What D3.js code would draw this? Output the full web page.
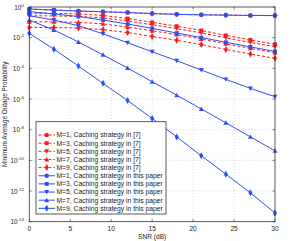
<!DOCTYPE html>
<html>
<head>
<meta charset="utf-8">
<script src="https://cdn.jsdelivr.net/npm/d3@7"></script>
<style>
  body { margin: 0; background: #fff; }
  text { font-family: "Liberation Sans", Arial, sans-serif; fill: #222; }
</style>
</head>
<body>
<div id="chart"></div>
<script>
// SNR points (dB)
const snr = [0, 3, 6, 9, 12, 15, 18, 21, 24, 27, 30];

// Caching strategy in [7] (red, dashed)
const ref7_M1 = [0.741, 0.631, 0.550, 0.490, 0.437, 0.372, 0.331, 0.309, 0.295, 0.282, 0.275];
const ref7_M3 = [0.389, 0.380, 0.355, 0.282, 0.178, 0.100, 0.0562, 0.0295, 0.0141, 7.08e-3, 3.72e-3];
const ref7_M5 = [0.269, 0.263, 0.245, 0.195, 0.123, 0.0692, 0.0389, 0.0204, 9.77e-3, 4.90e-3, 2.57e-3];
const ref7_M7 = [0.110, 0.107, 0.100, 0.0794, 0.0501, 0.0282, 0.0158, 8.32e-3, 3.98e-3, 2.0e-3, 1.05e-3];
const ref7_M9 = [0.0468, 0.0457, 0.0427, 0.0339, 0.0214, 0.0120, 6.76e-3, 3.55e-3, 1.70e-3, 8.51e-4, 4.47e-4];

// Caching strategy in this paper (blue, solid)
const own_M1 = [0.741, 0.631, 0.550, 0.490, 0.437, 0.372, 0.331, 0.309, 0.295, 0.282, 0.275];
const own_M3 = [0.501, 0.355, 0.240, 0.141, 0.0776, 0.0407, 0.0200, 0.0102, 5.01e-3, 2.51e-3, 1.26e-3];
const own_M5 = [0.269, 0.141, 0.0603, 0.0178, 4.68e-3, 1.20e-3, 3.16e-4, 7.76e-5, 1.91e-5, 4.90e-6, 1.41e-6];
const own_M7 = [0.141, 0.0316, 5.25e-3, 7.59e-4, 1.05e-4, 1.35e-5, 1.78e-6, 2.24e-7, 2.82e-8, 3.39e-9, 4.17e-10];
const own_M9 = [0.0191, 1.78e-3, 1.41e-4, 1.05e-5, 7.94e-7, 5.37e-8, 3.39e-9, 2.0e-10, 1.26e-11, 7.59e-13, 3.72e-14];

const xTicks = [0, 5, 10, 15, 20, 25, 30];
const yExps = [0, -2, -4, -6, -8, -10, -12, -14];

const legendLabels = [
  "M=1, Caching strategy in [7]",
  "M=3, Caching strategy in [7]",
  "M=5, Caching strategy in [7]",
  "M=7, Caching strategy in [7]",
  "M=9, Caching strategy in [7]",
  "M=1, Caching strategy in this paper",
  "M=3, Caching strategy in this paper",
  "M=5, Caching strategy in this paper",
  "M=7, Caching strategy in this paper",
  "M=9, Caching strategy in this paper"
];

const RED = "#ff1a1a", BLUE = "#2e4ff5";
const shapes = ["circle", "square", "down", "up", "diamond"];

const series = [
  { vals: ref7_M1, color: RED, dash: "3,2", shape: shapes[0] },
  { vals: ref7_M3, color: RED, dash: "3,2", shape: shapes[1] },
  { vals: ref7_M5, color: RED, dash: "3,2", shape: shapes[2] },
  { vals: ref7_M7, color: RED, dash: "3,2", shape: shapes[3] },
  { vals: ref7_M9, color: RED, dash: "3,2", shape: shapes[4] },
  { vals: own_M1, color: BLUE, dash: null, shape: shapes[0] },
  { vals: own_M3, color: BLUE, dash: null, shape: shapes[1] },
  { vals: own_M5, color: BLUE, dash: null, shape: shapes[2] },
  { vals: own_M7, color: BLUE, dash: null, shape: shapes[3] },
  { vals: own_M9, color: BLUE, dash: null, shape: shapes[4] }
];

var W = 292, H = 241;
var margin = { top: 7, left: 29.3, right: 17, bottom: 19.3 };
var width = W - margin.left - margin.right,
    height = H - margin.top - margin.bottom;

var root = d3.select("#chart").append("svg")
    .attr("width", W)
    .attr("height", H);

var svg = root.append("g")
    .attr("transform", "translate(" + margin.left + "," + margin.top + ")");

var x = d3.scaleLinear().domain([0, 30]).range([0, width]);
var y = d3.scaleLog().domain([1e-14, 1]).range([height, 0]);

// grid
svg.append("g").selectAll("line")
    .data(xTicks.slice(1, -1))
    .enter().append("line")
    .attr("x1", d => x(d)).attr("x2", d => x(d))
    .attr("y1", 0).attr("y2", height)
    .attr("stroke", "#c8c8c8").attr("stroke-width", 0.7)
    .attr("stroke-dasharray", "1,2");

svg.append("g").selectAll("line")
    .data(yExps.slice(1, -1))
    .enter().append("line")
    .attr("x1", 0).attr("x2", width)
    .attr("y1", d => y(Math.pow(10, d))).attr("y2", d => y(Math.pow(10, d)))
    .attr("stroke", "#c8c8c8").attr("stroke-width", 0.7)
    .attr("stroke-dasharray", "1,2");

function symbolPath(shape, s) {
    if (shape == "circle") return d3.symbol(d3.symbolCircle, s * s * 0.8)();
    if (shape == "square") return d3.symbol(d3.symbolSquare, s * s * 0.75)();
    if (shape == "diamond") return d3.symbol(d3.symbolDiamond, s * s * 0.7)();
    var h = s * 0.55;
    if (shape == "up") return "M0," + (-h) + "L" + h + "," + (h * 0.8) + "L" + (-h) + "," + (h * 0.8) + "Z";
    return "M0," + h + "L" + h + "," + (-h * 0.8) + "L" + (-h) + "," + (-h * 0.8) + "Z";
}

var line = d3.line()
    .x((d, i) => x(snr[i]))
    .y(d => y(d));

series.forEach(function (s) {
    var g = svg.append("g");
    g.append("path")
        .attr("d", line(s.vals))
        .attr("fill", "none")
        .attr("stroke", s.color)
        .attr("stroke-width", 1)
        .attr("stroke-dasharray", s.dash);
    g.selectAll("path.m")
        .data(s.vals)
        .enter().append("path")
        .attr("class", "m")
        .attr("transform", (d, i) => "translate(" + x(snr[i]) + "," + y(d) + ")")
        .attr("d", symbolPath(s.shape, 4.5))
        .attr("fill", s.color);
});

// frame and ticks
svg.append("rect")
    .attr("width", width).attr("height", height)
    .attr("fill", "none").attr("stroke", "#333").attr("stroke-width", 0.8);

xTicks.forEach(function (t) {
    svg.append("line").attr("x1", x(t)).attr("x2", x(t)).attr("y1", height).attr("y2", height - 2.5)
        .attr("stroke", "#333").attr("stroke-width", 0.6);
    svg.append("line").attr("x1", x(t)).attr("x2", x(t)).attr("y1", 0).attr("y2", 2.5)
        .attr("stroke", "#333").attr("stroke-width", 0.6);
    svg.append("text")
        .attr("x", x(t)).attr("y", height + 9)
        .attr("text-anchor", "middle")
        .style("font-size", "6.6px")
        .text(t);
});

yExps.forEach(function (e) {
    var yy = y(Math.pow(10, e));
    svg.append("line").attr("x1", 0).attr("x2", 2.5).attr("y1", yy).attr("y2", yy)
        .attr("stroke", "#333").attr("stroke-width", 0.6);
    svg.append("line").attr("x1", width).attr("x2", width - 2.5).attr("y1", yy).attr("y2", yy)
        .attr("stroke", "#333").attr("stroke-width", 0.6);
    var t = svg.append("text")
        .attr("x", -5.5).attr("y", yy + 2.5)
        .attr("text-anchor", "end")
        .style("font-size", "6.4px");
    t.append("tspan").text("10");
    t.append("tspan").attr("dy", -3).style("font-size", "4.3px").text(e == 0 ? "0" : "-" + (-e));
});

svg.append("text")
    .attr("x", width / 2).attr("y", height + 17)
    .attr("text-anchor", "middle")
    .style("font-size", "6.6px")
    .text("SNR (dB)");

root.append("text")
    .attr("transform", "translate(7," + (margin.top + height / 2) + ") rotate(-90)")
    .attr("text-anchor", "middle")
    .style("font-size", "6.4px")
    .text("Minimum Average Outage Probability");

// legend
var lg = root.append("g").attr("transform", "translate(36,121.7)");
lg.append("rect")
    .attr("width", 130).attr("height", 92.3)
    .attr("fill", "#fff").attr("stroke", "#333").attr("stroke-width", 0.8);

series.forEach(function (s, i) {
    var ly = 13.3 + i * 8.15;
    lg.append("line")
        .attr("x1", 2.5).attr("x2", 19).attr("y1", ly).attr("y2", ly)
        .attr("stroke", s.color).attr("stroke-width", 1)
        .attr("stroke-dasharray", s.dash);
    lg.append("path")
        .attr("transform", "translate(10.7," + ly + ")")
        .attr("d", symbolPath(s.shape, 4.5))
        .attr("fill", s.color);
    lg.append("text")
        .attr("x", 20.5).attr("y", ly + 2.4)
        .style("font-size", "6.75px")
        .text(legendLabels[i]);
});
</script>
</body>
</html>
